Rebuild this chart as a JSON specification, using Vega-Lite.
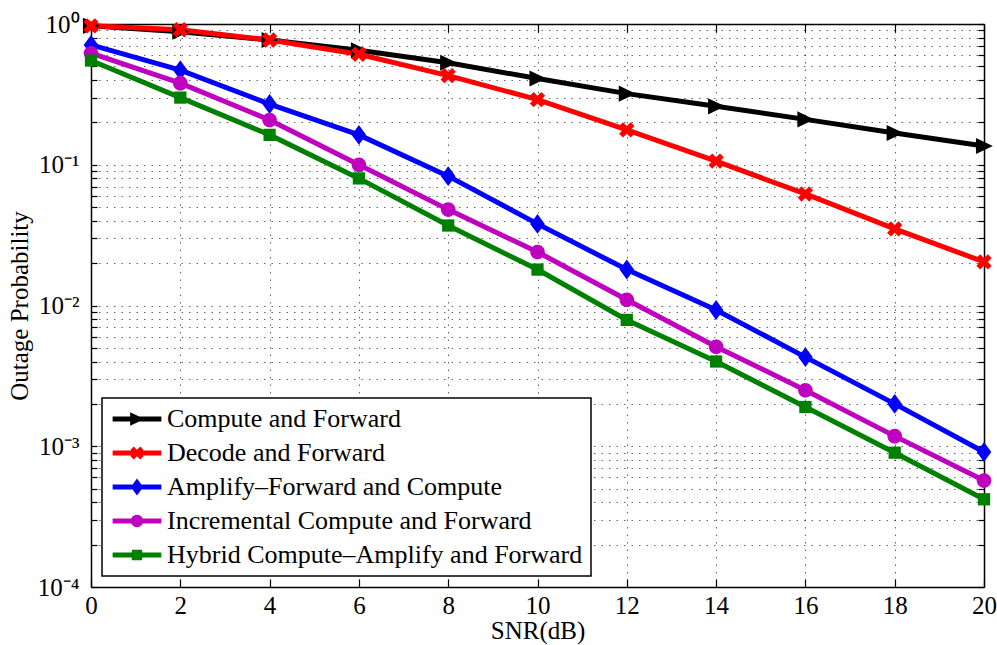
{
  "$schema": "https://vega.github.io/schema/vega-lite/v6.json",
  "width": 893,
  "height": 563,
  "autosize": {"type": "none"},
  "padding": {"left": 91, "top": 24, "right": 13, "bottom": 58},
  "background": "white",
  "config": {
    "font": "Liberation Serif",
    "view": {"stroke": null},
    "axis": {
      "labelFont": "Liberation Serif",
      "titleFont": "Liberation Serif",
      "labelFontSize": 25,
      "titleFontSize": 25,
      "titleFontWeight": "normal",
      "labelColor": "#000",
      "titleColor": "#000",
      "domainColor": "#000",
      "domainWidth": 1.5,
      "tickColor": "#000",
      "tickWidth": 1.2,
      "gridColor": "#000",
      "gridDash": [1.5, 6],
      "gridOpacity": 0.6,
      "gridWidth": 1,
      "labelFlush": false,
      "labelOverlap": false
    }
  },
  "data": {
    "values": [
      {"snr": 0, "p": 0.97, "series": "Compute and Forward"},
      {"snr": 2, "p": 0.88, "series": "Compute and Forward"},
      {"snr": 4, "p": 0.77, "series": "Compute and Forward"},
      {"snr": 6, "p": 0.65, "series": "Compute and Forward"},
      {"snr": 8, "p": 0.53, "series": "Compute and Forward"},
      {"snr": 10, "p": 0.41, "series": "Compute and Forward"},
      {"snr": 12, "p": 0.32, "series": "Compute and Forward"},
      {"snr": 14, "p": 0.26, "series": "Compute and Forward"},
      {"snr": 16, "p": 0.21, "series": "Compute and Forward"},
      {"snr": 18, "p": 0.168, "series": "Compute and Forward"},
      {"snr": 20, "p": 0.136, "series": "Compute and Forward"},
      {"snr": 0, "p": 0.97, "series": "Decode and Forward"},
      {"snr": 2, "p": 0.91, "series": "Decode and Forward"},
      {"snr": 4, "p": 0.77, "series": "Decode and Forward"},
      {"snr": 6, "p": 0.61, "series": "Decode and Forward"},
      {"snr": 8, "p": 0.43, "series": "Decode and Forward"},
      {"snr": 10, "p": 0.29, "series": "Decode and Forward"},
      {"snr": 12, "p": 0.177, "series": "Decode and Forward"},
      {"snr": 14, "p": 0.106, "series": "Decode and Forward"},
      {"snr": 16, "p": 0.062, "series": "Decode and Forward"},
      {"snr": 18, "p": 0.035, "series": "Decode and Forward"},
      {"snr": 20, "p": 0.0204, "series": "Decode and Forward"},
      {"snr": 0, "p": 0.71, "series": "Amplify–Forward and Compute"},
      {"snr": 2, "p": 0.47, "series": "Amplify–Forward and Compute"},
      {"snr": 4, "p": 0.27, "series": "Amplify–Forward and Compute"},
      {"snr": 6, "p": 0.163, "series": "Amplify–Forward and Compute"},
      {"snr": 8, "p": 0.083, "series": "Amplify–Forward and Compute"},
      {"snr": 10, "p": 0.038, "series": "Amplify–Forward and Compute"},
      {"snr": 12, "p": 0.018, "series": "Amplify–Forward and Compute"},
      {"snr": 14, "p": 0.0093, "series": "Amplify–Forward and Compute"},
      {"snr": 16, "p": 0.0043, "series": "Amplify–Forward and Compute"},
      {"snr": 18, "p": 0.002, "series": "Amplify–Forward and Compute"},
      {"snr": 20, "p": 0.00091, "series": "Amplify–Forward and Compute"},
      {"snr": 0, "p": 0.62, "series": "Incremental Compute and Forward"},
      {"snr": 2, "p": 0.38, "series": "Incremental Compute and Forward"},
      {"snr": 4, "p": 0.208, "series": "Incremental Compute and Forward"},
      {"snr": 6, "p": 0.1, "series": "Incremental Compute and Forward"},
      {"snr": 8, "p": 0.048, "series": "Incremental Compute and Forward"},
      {"snr": 10, "p": 0.024, "series": "Incremental Compute and Forward"},
      {"snr": 12, "p": 0.011, "series": "Incremental Compute and Forward"},
      {"snr": 14, "p": 0.0051, "series": "Incremental Compute and Forward"},
      {"snr": 16, "p": 0.0025, "series": "Incremental Compute and Forward"},
      {"snr": 18, "p": 0.00118, "series": "Incremental Compute and Forward"},
      {"snr": 20, "p": 0.00057, "series": "Incremental Compute and Forward"},
      {"snr": 0, "p": 0.55, "series": "Hybrid Compute–Amplify and Forward"},
      {"snr": 2, "p": 0.3, "series": "Hybrid Compute–Amplify and Forward"},
      {"snr": 4, "p": 0.163, "series": "Hybrid Compute–Amplify and Forward"},
      {"snr": 6, "p": 0.08, "series": "Hybrid Compute–Amplify and Forward"},
      {"snr": 8, "p": 0.037, "series": "Hybrid Compute–Amplify and Forward"},
      {"snr": 10, "p": 0.018, "series": "Hybrid Compute–Amplify and Forward"},
      {"snr": 12, "p": 0.0079, "series": "Hybrid Compute–Amplify and Forward"},
      {"snr": 14, "p": 0.004, "series": "Hybrid Compute–Amplify and Forward"},
      {"snr": 16, "p": 0.0019, "series": "Hybrid Compute–Amplify and Forward"},
      {"snr": 18, "p": 0.0009, "series": "Hybrid Compute–Amplify and Forward"},
      {"snr": 20, "p": 0.00042, "series": "Hybrid Compute–Amplify and Forward"}
    ]
  },
  "layer": [
    {
      "mark": {"type": "line", "strokeWidth": 5, "clip": false},
      "encoding": {
        "x": {
          "field": "snr", "type": "quantitative",
          "scale": {"domain": [0, 20], "nice": false, "zero": false},
          "axis": {"orient": "bottom", "values": [0, 2, 4, 6, 8, 10, 12, 14, 16, 18, 20], "title": "SNR(dB)", "grid": true, "tickSize": -8, "labelPadding": 14, "titlePadding": 0}
        },
        "y": {
          "field": "p", "type": "quantitative",
          "scale": {"type": "log", "domain": [0.0001, 1], "nice": false},
          "axis": {
            "orient": "left",
            "values": [0.0001, 0.0002, 0.0003, 0.0004, 0.0005, 0.0006, 0.0007, 0.0008, 0.0009, 0.001, 0.002, 0.003, 0.004, 0.005, 0.006, 0.007, 0.008, 0.009, 0.01, 0.02, 0.03, 0.04, 0.05, 0.06, 0.07, 0.08, 0.09, 0.1, 0.2, 0.3, 0.4, 0.5, 0.6, 0.7, 0.8, 0.9, 1],
            "labelExpr": "datum.value === 1 ? '10⁰' : datum.value === 0.1 ? '10⁻¹' : datum.value === 0.01 ? '10⁻²' : datum.value === 0.001 ? '10⁻³' : datum.value === 0.0001 ? '10⁻⁴' : ''",
            "title": "Outage Probability", "grid": true, "tickSize": -6, "labelPadding": 18, "titlePadding": 5
          }
        },
        "color": {
          "field": "series", "type": "nominal",
          "scale": {
            "domain": ["Compute and Forward", "Decode and Forward", "Amplify–Forward and Compute", "Incremental Compute and Forward", "Hybrid Compute–Amplify and Forward"],
            "range": ["#000000", "#ff0000", "#0000ff", "#bf00bf", "#008000"]
          },
          "legend": {
            "title": null, "orient": "bottom-left", "offset": 11, "padding": 8,
            "fillColor": "white", "strokeColor": "black",
            "labelFont": "Liberation Serif", "labelFontSize": 26, "labelColor": "#000", "labelLimit": 1000,
            "symbolSize": 169, "symbolOffset": 14, "labelOffset": 17, "rowPadding": 8, "symbolStrokeWidth": 0,
            "encode": {
              "legend": {"update": {"strokeWidth": {"value": 1.5}}},
              "symbols": {"update": {
                "shape": {"signal": "datum.value === 'Compute and Forward' ? 'M-3.75,-0.38H3.75V0.38H-3.75Z M-1.05,-1.05L1.15,0L-1.05,1.05Z' : datum.value === 'Decode and Forward' ? 'M-3.75,-0.38H3.75V0.38H-3.75Z M-1,-0.5L-0.5,-1L0,-0.5L0.5,-1L1,-0.5L0.5,0L1,0.5L0.5,1L0,0.5L-0.5,1L-1,0.5L-0.5,0Z' : datum.value === 'Amplify–Forward and Compute' ? 'M-3.75,-0.38H3.75V0.38H-3.75Z M0,-1.3L0.95,0L0,1.3L-0.95,0Z' : datum.value === 'Incremental Compute and Forward' ? 'M-3.75,-0.38H3.75V0.38H-3.75Z M-0.95,0A0.95,0.95 0 1,1 0.95,0A0.95,0.95 0 1,1 -0.95,0Z' : 'M-3.75,-0.38H3.75V0.38H-3.75Z M-0.8,-0.8H0.8V0.8H-0.8Z'"},
                "strokeWidth": {"value": 0},
                "size": {"value": 169},
                "opacity": {"value": 1}
              }}
            }
          }
        }
      }
    },
    {
      "mark": {"type": "point", "filled": true, "size": 235, "opacity": 1, "clip": false},
      "encoding": {
        "x": {
          "field": "snr", "type": "quantitative",
          "scale": {"domain": [0, 20], "nice": false, "zero": false},
          "axis": {"orient": "top", "values": [0, 2, 4, 6, 8, 10, 12, 14, 16, 18, 20], "labels": false, "title": null, "grid": false, "tickSize": -8}
        },
        "y": {
          "field": "p", "type": "quantitative",
          "scale": {"type": "log", "domain": [0.0001, 1], "nice": false},
          "axis": {
            "orient": "right",
            "values": [0.0001, 0.0002, 0.0003, 0.0004, 0.0005, 0.0006, 0.0007, 0.0008, 0.0009, 0.001, 0.002, 0.003, 0.004, 0.005, 0.006, 0.007, 0.008, 0.009, 0.01, 0.02, 0.03, 0.04, 0.05, 0.06, 0.07, 0.08, 0.09, 0.1, 0.2, 0.3, 0.4, 0.5, 0.6, 0.7, 0.8, 0.9, 1],
            "labels": false, "title": null, "grid": false, "tickSize": -6
          }
        },
        "color": {
          "field": "series", "type": "nominal",
          "scale": {
            "domain": ["Compute and Forward", "Decode and Forward", "Amplify–Forward and Compute", "Incremental Compute and Forward", "Hybrid Compute–Amplify and Forward"],
            "range": ["#000000", "#ff0000", "#0000ff", "#bf00bf", "#008000"]
          },
          "legend": {
            "title": null, "orient": "bottom-left", "offset": 11, "padding": 8,
            "fillColor": "white", "strokeColor": "black",
            "labelFont": "Liberation Serif", "labelFontSize": 26, "labelColor": "#000", "labelLimit": 1000,
            "symbolSize": 169, "symbolOffset": 14, "labelOffset": 17, "rowPadding": 8, "symbolStrokeWidth": 0,
            "encode": {
              "legend": {"update": {"strokeWidth": {"value": 1.5}}},
              "symbols": {"update": {
                "shape": {"signal": "datum.value === 'Compute and Forward' ? 'M-3.75,-0.38H3.75V0.38H-3.75Z M-1.05,-1.05L1.15,0L-1.05,1.05Z' : datum.value === 'Decode and Forward' ? 'M-3.75,-0.38H3.75V0.38H-3.75Z M-1,-0.5L-0.5,-1L0,-0.5L0.5,-1L1,-0.5L0.5,0L1,0.5L0.5,1L0,0.5L-0.5,1L-1,0.5L-0.5,0Z' : datum.value === 'Amplify–Forward and Compute' ? 'M-3.75,-0.38H3.75V0.38H-3.75Z M0,-1.3L0.95,0L0,1.3L-0.95,0Z' : datum.value === 'Incremental Compute and Forward' ? 'M-3.75,-0.38H3.75V0.38H-3.75Z M-0.95,0A0.95,0.95 0 1,1 0.95,0A0.95,0.95 0 1,1 -0.95,0Z' : 'M-3.75,-0.38H3.75V0.38H-3.75Z M-0.8,-0.8H0.8V0.8H-0.8Z'"},
                "strokeWidth": {"value": 0},
                "size": {"value": 169},
                "opacity": {"value": 1}
              }}
            }
          }
        },
        "shape": {
          "field": "series", "type": "nominal",
          "scale": {
            "domain": ["Hybrid Compute–Amplify and Forward", "Incremental Compute and Forward", "Amplify–Forward and Compute", "Decode and Forward", "Compute and Forward"],
            "range": ["M-0.8,-0.8H0.8V0.8H-0.8Z", "M-0.95,0A0.95,0.95 0 1,1 0.95,0A0.95,0.95 0 1,1 -0.95,0Z", "M0,-1.3L0.95,0L0,1.3L-0.95,0Z", "M-1,-0.5L-0.5,-1L0,-0.5L0.5,-1L1,-0.5L0.5,0L1,0.5L0.5,1L0,0.5L-0.5,1L-1,0.5L-0.5,0Z", "M-1.05,-1.05L1.15,0L-1.05,1.05Z"]
          },
          "legend": null
        }
      }
    }
  ],
  "resolve": {"axis": {"x": "independent", "y": "independent"}}
}
